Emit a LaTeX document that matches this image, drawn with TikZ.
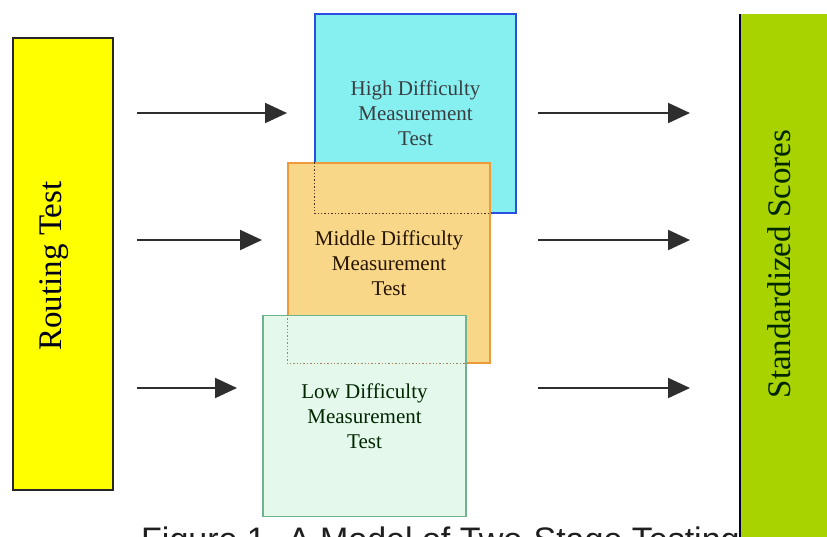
\documentclass[tikz,border=0pt]{standalone}
\usepackage{fontspec}
\setmainfont{Liberation Serif}
\newfontfamily\capfont{Liberation Sans}
\usetikzlibrary{arrows.meta}

\definecolor{routefill}{HTML}{FFFF00}
\definecolor{scorefill}{HTML}{A8D200}
\definecolor{highfill}{HTML}{86F0F0}
\definecolor{highline}{HTML}{2A4EE0}
\definecolor{midfill}{HTML}{F8D888}
\definecolor{midline}{HTML}{EE9A3A}
\definecolor{lowfill}{HTML}{E4F9EC}
\definecolor{lowline}{HTML}{6FB48C}
\definecolor{arrowgray}{HTML}{2E2E2E}

\tikzset{
  sidebox/.style={rectangle, draw=black!85, line width=1.2pt, inner sep=0pt},
  testbox/.style={rectangle, line width=1.2pt, minimum width=202pt, minimum height=200pt,
                  align=center, inner sep=0pt, font=\fontsize{21}{25}\selectfont},
  sidelabel/.style={rotate=90, inner sep=0pt, font=\fontsize{33}{38}\selectfont},
  flow/.style={draw=arrowgray, line width=2pt, -{Triangle[length=22pt,width=20pt]}},
  hidden/.style={line width=1.4pt, dotted}
}

\begin{document}
\begin{tikzpicture}[x=1pt, y=-1pt]
  \useasboundingbox (0,0) rectangle (827,536);
  \clip (0,0) rectangle (827,536);
  \fill[white] (0,0) rectangle (827,536);

  % caption, partly hidden by the score bar
  \node[anchor=base west, inner sep=0pt, text=black!88,
        font=\capfont\fontsize{34}{40}\selectfont] (caption) at (141,551)
        {Figure 1. A Model of Two-Stage Testing};

  % routing stage
  \node[sidebox, fill=routefill, minimum width=100pt, minimum height=452pt] (routing) at (63,264) {};
  \node[sidelabel, text=black!90!blue] (routinglabel) at (54,266) {Routing Test};

  % score bar on the right, outlined on its left side only
  \node[rectangle, inner sep=0pt, fill=scorefill, minimum width=110pt, minimum height=540pt] (scores) at (795,284) {};
  \draw[black!80!blue, line width=1.6pt] (scores.north west) -- (scores.south west);
  \node[sidelabel, text=black!85!green] (scoreslabel) at (779,264) {Standardized Scores};

  % measurement tests, stacked
  \node[testbox, draw=highline, fill=highfill, minimum width=201pt, minimum height=199pt,
        text=black!85!cyan] (high) at (415.5,113.5) {High Difficulty\\Measurement\\Test};
  \node[testbox, draw=midline, fill=midfill, text=black!85!orange] (mid) at (389,263)
        {Middle Difficulty\\Measurement\\Test};
  \draw[hidden, draw=black!60!brown] (mid.north -| high.west) -- (high.south west) -- (high.south -| mid.east);
  \node[testbox, draw=lowline, fill=lowfill, minimum width=203pt, minimum height=201pt,
        text=black!85!green] (low) at (364.5,416) {Low Difficulty\\Measurement\\Test};
  \draw[hidden, draw=brown!70!gray] (low.north -| mid.west) -- (mid.south west) -- (mid.south -| low.east);

  % arrow end points
  \coordinate (inA) at (137,113);  \coordinate (inAend) at (287,113);
  \coordinate (inB) at (137,240);  \coordinate (inBend) at (262,240);
  \coordinate (inC) at (137,388);  \coordinate (inCend) at (237,388);
  \coordinate (outA) at (538,113); \coordinate (outAend) at (690,113);
  \coordinate (outB) at (538,240); \coordinate (outBend) at (690,240);
  \coordinate (outC) at (538,388); \coordinate (outCend) at (690,388);

  \draw[flow] (inA) -- (inAend);
  \draw[flow] (inB) -- (inBend);
  \draw[flow] (inC) -- (inCend);
  \draw[flow] (outA) -- (outAend);
  \draw[flow] (outB) -- (outBend);
  \draw[flow] (outC) -- (outCend);
\end{tikzpicture}
\end{document}
